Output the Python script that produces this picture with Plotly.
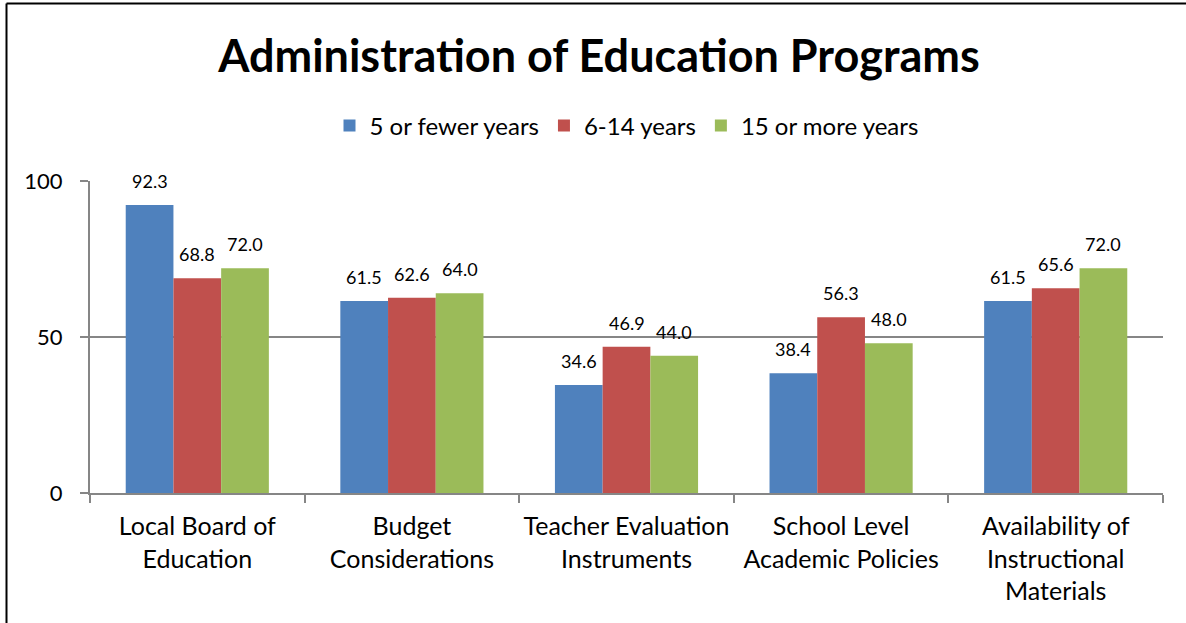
import plotly.graph_objects as go

categories = ["Local Board of<br>Education", "Budget<br>Considerations", "Teacher Evaluation<br>Instruments",
              "School Level<br>Academic Policies", "Availability of<br>Instructional<br>Materials"]
series_names = ["5 or fewer years", "6-14 years", "15 or more years"]
v_5_or_fewer = [92.3, 61.5, 34.6, 38.4, 61.5]
v_6_14 = [68.8, 62.6, 46.9, 56.3, 65.6]
v_15_plus = [72.0, 64.0, 44.0, 48.0, 72.0]
colors = ["#4F81BD", "#C0504D", "#9BBB59"]
y_ticks = [0, 50, 100]

FONT = "Lato"
W, H = 1186, 623
ML, MR, MT, MB = 90, 23, 181, 130
BARGAP = 0.333
plot_w = W - ML - MR
plot_h = H - MT - MB
bar_px = plot_w / len(categories) * (1 - BARGAP) / 3

fig = go.Figure()
all_series = [v_5_or_fewer, v_6_14, v_15_plus]
for i, (name, vals, col) in enumerate(zip(series_names, all_series, colors)):
    fig.add_trace(go.Bar(
        x=categories, y=vals, name=name, marker=dict(color=col, line=dict(width=0)),
    ))
    for c, v in zip(categories, vals):
        fig.add_annotation(x=c, y=v, xref="x", yref="y", text=f"{v:.1f}", showarrow=False,
                           xshift=(i - 1) * bar_px, yshift=24, yanchor="middle", xanchor="center",
                           font=dict(size=18, family=FONT, color="black"))

fig.update_layout(
    width=W, height=H,
    margin=dict(l=ML, r=MR, t=MT, b=MB, autoexpand=False),
    paper_bgcolor="white", plot_bgcolor="white",
    barmode="group", bargap=BARGAP, bargroupgap=0,
    font=dict(family=FONT, color="black"),
    title=dict(text="<b>Administration of Education Programs</b>", x=0.505, xanchor="center",
               y=1 - 56 / H, yanchor="middle", font=dict(size=45, family=FONT, color="black")),
    legend=dict(orientation="h", x=0.5, xanchor="center", y=(plot_h - 126 + MT) / plot_h, yanchor="middle",
                font=dict(size=24, family=FONT), itemwidth=30, bgcolor="rgba(0,0,0,0)"),
    showlegend=True,
)
fig.update_xaxes(showline=True, linecolor="#868686", linewidth=2, ticks="outside", tickson="boundaries",
                 ticklen=8, tickcolor="#868686", tickwidth=2, tickfont=dict(size=25, family=FONT),
                 showgrid=False, ticklabelstandoff=10, tickangle=0, automargin=False)
fig.update_yaxes(range=[0, 100], tickvals=y_ticks, showline=True, linecolor="#868686", linewidth=2,
                 ticks="outside", ticklen=8, tickcolor="#868686", tickwidth=2,
                 showgrid=True, gridcolor="#868686", gridwidth=1.5, zeroline=False,
                 tickfont=dict(size=22, family=FONT), ticklabelstandoff=13, automargin=False)

# chart border: only the left and top edges fall inside the window
bx0 = (6.5 - ML) / plot_w
bx1 = (1200 - ML) / plot_w
by0 = (plot_h - 640 + MT) / plot_h
by1 = (plot_h - 3.5 + MT) / plot_h
fig.add_shape(type="line", xref="paper", yref="paper", x0=bx0, x1=bx0, y0=by0, y1=by1,
              line=dict(color="black", width=2), layer="below")
fig.add_shape(type="line", xref="paper", yref="paper", x0=bx0, x1=bx1, y0=by1, y1=by1,
              line=dict(color="black", width=2), layer="below")

fig.write_html("out.html", config={"displayModeBar": False},
               post_script="document.body.style.margin='0';document.body.style.overflow='hidden';")
